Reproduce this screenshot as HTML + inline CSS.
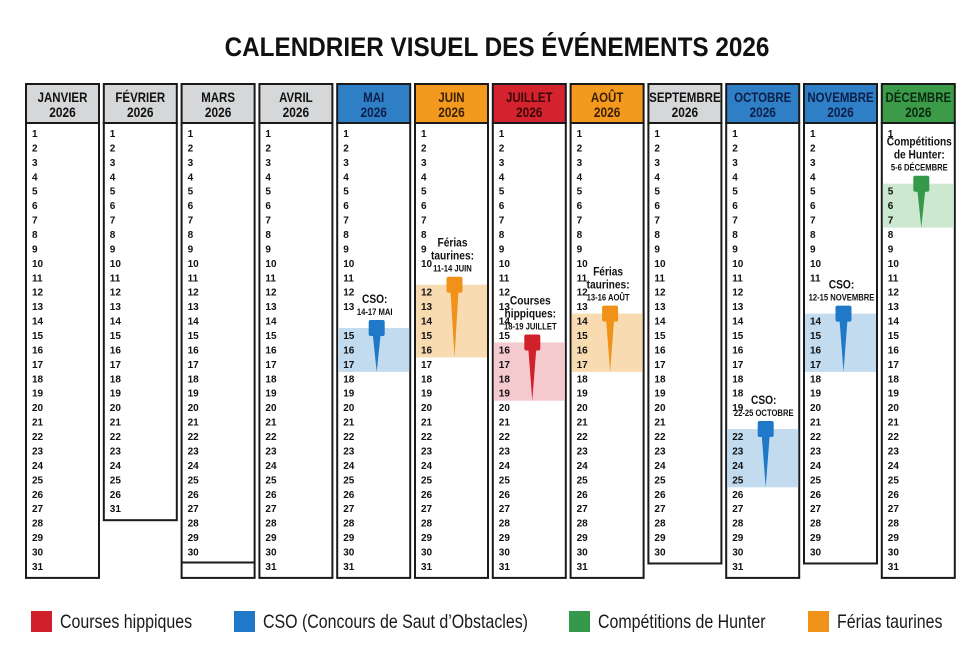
<!DOCTYPE html>
<html><head><meta charset="utf-8"><style>
html,body{margin:0;padding:0;background:#fff;}
svg{display:block;font-family:"Liberation Sans",sans-serif;}
</style></head><body>
<svg id="cal" width="980" height="657" viewBox="0 0 980 657" xmlns="http://www.w3.org/2000/svg">
<text x="497" y="56" text-anchor="middle" font-size="27" font-weight="bold" fill="#111" transform="translate(497,0) scale(0.9,1) translate(-497,0)">CALENDRIER VISUEL DES ÉVÉNEMENTS 2026</text>
<g id="cols"></g>
<g id="bands"></g>
<g id="nums"></g>
<g id="events"></g>
<g id="legend"></g>
</svg>
<script>
const monthNames = ["JANVIER","FÉVRIER","MARS","AVRIL","MAI","JUIN","JUILLET","AOÛT","SEPTEMBRE","OCTOBRE","NOVEMBRE","DÉCEMBRE"];
const monthColors = ["gray","gray","gray","gray","blue","orange","red","orange","gray","blue","blue","green"];
function rng(a,b){const r=[];for(let i=a;i<=b;i++)r.push(String(i));return r;}
const dayLabels = [
  rng(1,31),
  rng(1,26).concat(["31"]),
  rng(1,30).concat([""]),
  rng(1,31),
  rng(1,13).concat([""]).concat(rng(15,31)),
  rng(1,10).concat([""]).concat(rng(12,31)),
  rng(1,31),
  rng(1,31),
  rng(1,30),
  rng(1,17).concat(["18","18","19",""]).concat(rng(22,31)),
  rng(1,11).concat(["",""]).concat(rng(14,30)),
  ["1","","",""].concat(rng(5,31))
];
const evMonth = [4,5,6,7,9,10,11];
const evStart = [15,12,16,14,22,14,5];
const evEnd = [17,16,19,17,25,17,7];
const evType = ["cso","feria","course","feria","cso","cso","hunter"];
const evTitle = [["CSO:"],["Férias","taurines:"],["Courses","hippiques:"],["Férias","taurines:"],["CSO:"],["CSO:"],["Compétitions","de Hunter:"]];
const evDates = ["14-17 MAI","11-14 JUIN","18-19 JUILLET","13-16 AOÛT","22-25 OCTOBRE","12-15 NOVEMBRE","5-6 DÉCEMBRE"];
const legendLabels = ["Courses hippiques","CSO (Concours de Saut d’Obstacles)","Compétitions de Hunter","Férias taurines"];
const legendTypes = ["course","cso","hunter","feria"];

const fill = {gray:"#d5d7d9",blue:"#2e7fc6",orange:"#f39a1e",red:"#d2232e",green:"#3c9b49"};
const hdrText = {gray:"#111",blue:"#0d1f4a",orange:"#3a1f05",red:"#3d0608",green:"#0a2a10"};
const typeColor = {cso:"#1f78c8",feria:"#f0921a",course:"#d0202c",hunter:"#35984a"};
const bandColor = {cso:"#c3dbef",feria:"#f9dbb2",course:"#f5cace",hunter:"#cde8d0"};

const NS="http://www.w3.org/2000/svg";
function mk(tag,attrs,parent){const e=document.createElementNS(NS,tag);for(const k in attrs)e.setAttribute(k,attrs[k]);parent.appendChild(e);return e;}
const colX = i => 26 + i*77.8;
const colW = 73;
const slotY = s => 137 + s*14.43;
const daySlot = (m,d) => dayLabels[m].indexOf(String(d));

const cols=document.getElementById('cols');
const nums=document.getElementById('nums');
for(let m=0;m<12;m++){
  const g=mk('g',{},cols);
  
  
  const x=colX(m);
  const n=dayLabels[m].length;
  const bottom=slotY(n-1)+8;
  const body=mk('rect',{x:x,y:123,width:colW,height:bottom-123,fill:"#fff",stroke:"#1a1a1a","stroke-width":2},g);
  
  
  const hdr=mk('rect',{x:x,y:84,width:colW,height:39,fill:fill[monthColors[m]],stroke:"#1a1a1a","stroke-width":2},g);
  
  
  const cx=x+colW/2;
  const t1=mk('text',{x:cx,y:102,"text-anchor":"middle","font-size":14,"font-weight":"bold",fill:hdrText[monthColors[m]],transform:`translate(${cx},0) scale(0.82,1) translate(${-cx},0)`},g);
  t1.textContent=monthNames[m];
  
  
  const t2=mk('text',{x:cx,y:117,"text-anchor":"middle","font-size":14,"font-weight":"bold",fill:hdrText[monthColors[m]],transform:`translate(${cx},0) scale(0.85,1) translate(${-cx},0)`},g);
  t2.textContent="2026";
  
  
  if(m===2){mk('line',{x1:x,x2:x+colW,y1:slotY(n-2)+7,y2:slotY(n-2)+7,stroke:"#1a1a1a","stroke-width":2},g);}
  dayLabels[m].forEach((lab,s)=>{
    if(!lab)return;
    const t=mk('text',{x:x+6,y:slotY(s),"font-size":10,"font-weight":"bold",fill:"#111"},nums);
    t.textContent=lab;
    
    
  });
}

const bands=document.getElementById('bands');
const evs=document.getElementById('events');
for(let i=0;i<evMonth.length;i++){
  const m=evMonth[i];
  const x=colX(m);
  const y0=slotY(daySlot(m,evStart[i]))-11, y1=slotY(daySlot(m,evEnd[i]))+4;
  const band=mk('rect',{x:x+1,y:y0,width:colW-2,height:y1-y0,fill:bandColor[evType[i]]},bands);
  
  

  const g=mk('g',{},evs);
  
  
  const cx=x+colW/2+3;
  const c=typeColor[evType[i]];
  const headTop=y0-8;
  mk('path',{d:`M${cx-4},${headTop+14} L${cx+4},${headTop+14} L${cx},${y1}Z`,fill:c},g);
  const head=mk('rect',{x:cx-8,y:headTop,width:16,height:16,rx:2,fill:c},g);
  
  
  const dt=mk('text',{x:cx-2,y:headTop-5,"text-anchor":"middle","font-size":9,"font-weight":"bold",fill:"#111",transform:`translate(${cx-2},0) scale(0.85,1) translate(${-(cx-2)},0)`},g);
  dt.textContent=evDates[i];
  
  
  const lines=evTitle[i];
  let ty=headTop-17;
  for(let k=lines.length-1;k>=0;k--){
    const t=mk('text',{x:cx-2,y:ty,"text-anchor":"middle","font-size":12,"font-weight":"bold",fill:"#111",transform:`translate(${cx-2},0) scale(0.85,1) translate(${-(cx-2)},0)`},g);
    t.textContent=lines[k];
    
    
    ty-=13;
  }
}

const leg=document.getElementById('legend');
const legX=[31,234,569,808];
legendLabels.forEach((lab,i)=>{
  const g=mk('g',{},leg);
  
  
  const sw=mk('rect',{x:legX[i],y:611,width:21,height:21,fill:typeColor[legendTypes[i]]},g);
  
  
  const tx=legX[i]+29;
  const t=mk('text',{x:tx,y:628,"font-size":19,fill:"#1a1a1a",transform:`translate(${tx},0) scale(0.84,1) translate(${-tx},0)`},g);
  t.textContent=lab;
  
  
});
</script>
</body></html>
